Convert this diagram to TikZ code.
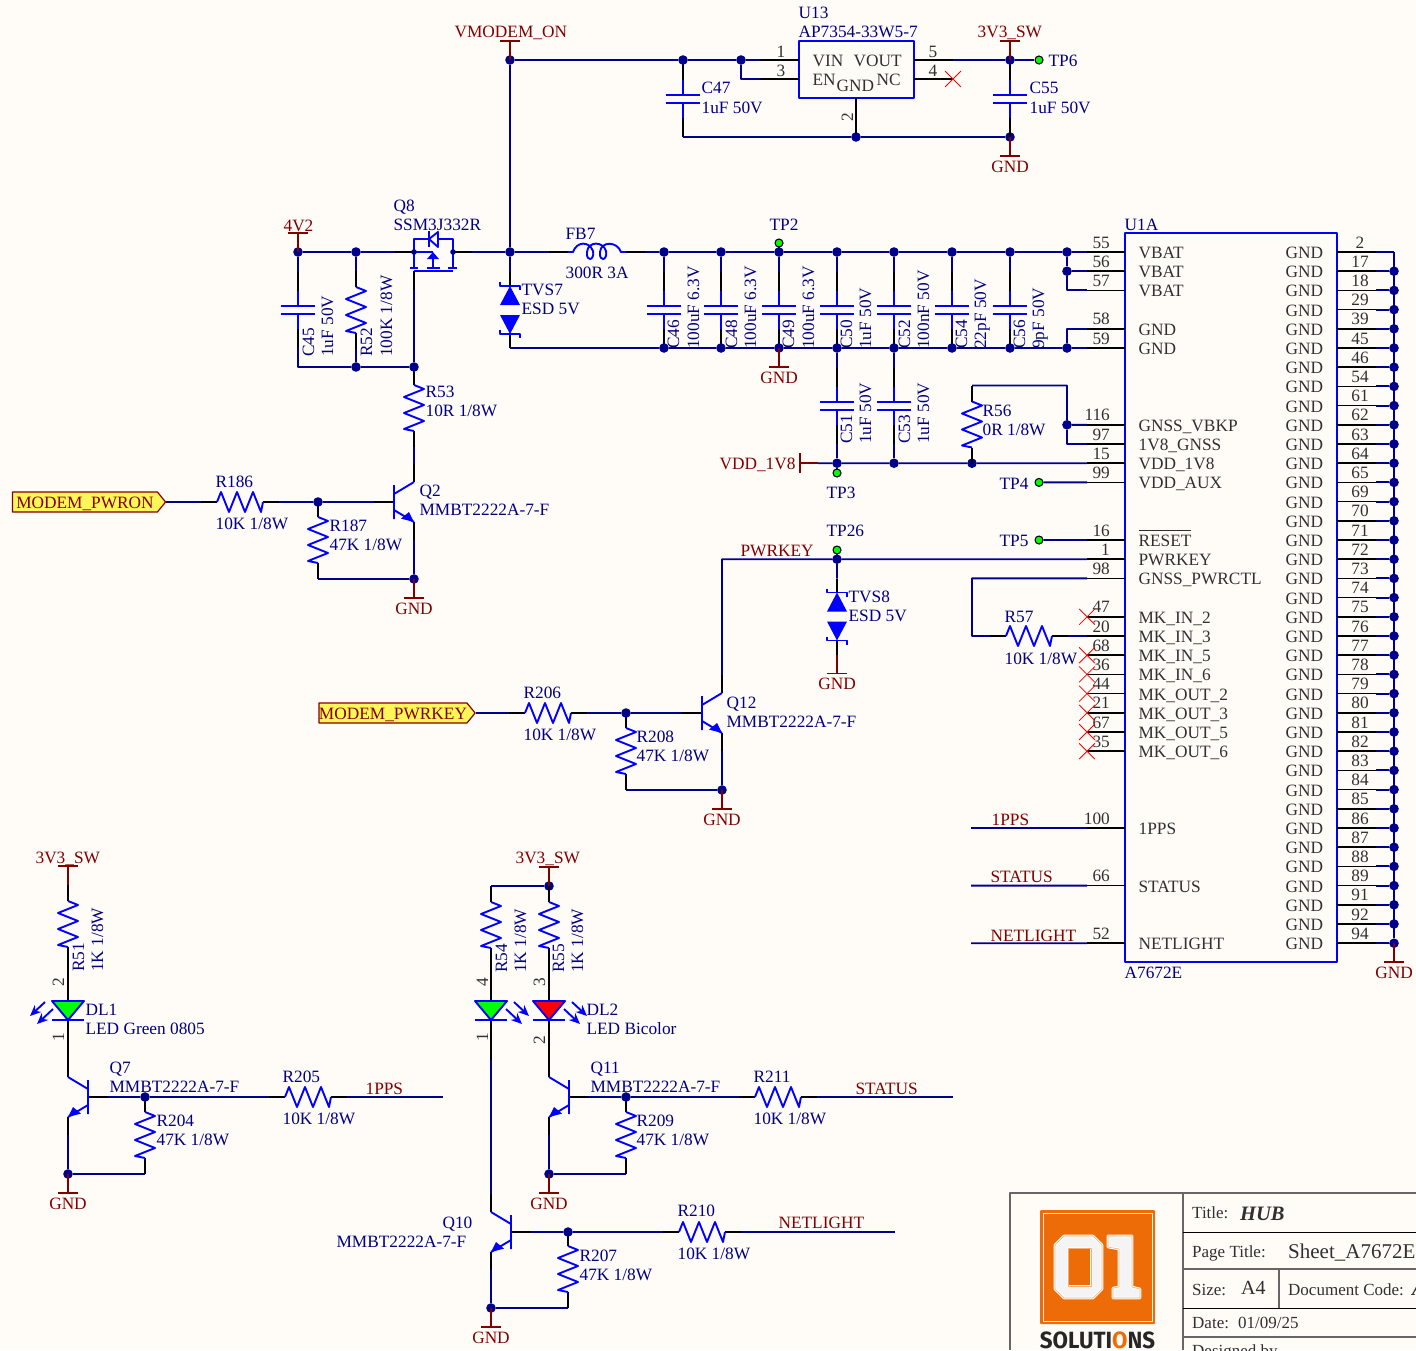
\documentclass[tikz,border=0pt]{standalone}
\usepackage{fontspec}
\usepackage{xcolor}
\usepackage{graphicx}
\setmainfont{Liberation Serif}
\newfontfamily\logofont{Fira Sans}
\usetikzlibrary{arrows.meta}
\usetikzlibrary{shapes.misc}
\usetikzlibrary{shapes.symbols}
\definecolor{paper}{HTML}{FFFCF8}
\definecolor{netblue}{HTML}{00008C}
\definecolor{compblue}{HTML}{0000FF}
\definecolor{lblblue}{HTML}{000080}
\definecolor{portred}{HTML}{800000}
\definecolor{ictext}{HTML}{303030}
\definecolor{logoorange}{HTML}{EE6C07}
\definecolor{logowhite}{HTML}{F4F4F4}
\definecolor{tpgreen}{HTML}{00FF00}
\def\zeroshape{(1064,1236) -- (1093,1236) -- (1102,1245) -- (1102,1289) -- (1093,1298) -- (1064,1298) -- (1055,1289) -- (1055,1245) -- cycle}
\def\oneshape{(1108,1236) -- (1132,1236) -- (1132,1287) -- (1140,1289) -- (1140,1298) -- (1113,1298) -- (1113,1288) -- (1119,1287) -- (1119,1249) -- (1108,1247) -- cycle}
\tikzset{
	wire/.style={draw=netblue,line width=1.9pt},
	stub/.style={draw=black,line width=1.7pt},
	comp/.style={draw=compblue,line width=1.9pt},
	portline/.style={draw=portred,line width=1.7pt},
	txt/.style={font=\fontsize{17.3}{18}\selectfont,inner sep=0pt},
	lbl/.style={txt,text=lblblue,anchor=base west,xshift=-0.6pt},
	rlbl/.style={txt,text=lblblue,anchor=base west,rotate=90},
	netlbl/.style={txt,text=portred,anchor=base west,xshift=-0.6pt},
	gndlbl/.style={txt,text=portred,anchor=base},
	pinnum/.style={txt,text=ictext,anchor=base east},
	pincen/.style={txt,text=ictext,anchor=base},
	rpin/.style={pincen,rotate=90},
	ictxt/.style={txt,text=ictext,anchor=base west,xshift=-0.6pt},
	tbtxt/.style={txt,text=ictext,anchor=base west,font=\fontsize{17}{18}\selectfont},
	jdot/.style={circle,fill=netblue,inner sep=0pt,minimum size=9.6pt},
	tpdot/.style={circle,fill=tpgreen,draw=black,line width=1.1pt,inner sep=0pt,minimum size=8pt},
	ncx/.style={cross out,draw=red,line width=0.8pt,inner sep=0pt,minimum size=15pt},
	icbox/.style={draw=compblue,line width=2.2pt,inner sep=0pt},
	modport/.style={signal,signal to=east,draw=portred,fill=yellow!65,line width=1.2pt,txt,text=portred,
		inner sep=0pt,minimum height=20pt,signal pointer angle=102,text height=13pt,text depth=1pt},
	tbline/.style={draw=black!60,line width=1.3pt},
	pics/resv/.style={code={
		\draw[stub] (0,-39) -- (0,-23) (0,23) -- (0,39);
		\draw[comp] (0,-23) -- (10,-19) -- (-10,-11) -- (10,-3) -- (-10,5) -- (10,13) -- (-10,21) -- (0,23);
		\coordinate (-a) at (0,-39);
		\coordinate (-b) at (0,39);
	}},
	pics/resh/.style={code={
		\draw[stub] (-39,0) -- (-23,0) (23,0) -- (39,0);
		\draw[comp] (-23,0) -- (-19,-10) -- (-11,10) -- (-3,-10) -- (5,10) -- (13,-10) -- (21,10) -- (23,0);
		\coordinate (-a) at (-39,0);
		\coordinate (-b) at (39,0);
	}},
	pics/capv/.style={code={
		\draw[stub] (0,-38) -- (0,-19) (0,19) -- (0,38);
		\draw[comp] (0,-19) -- (0,-4) (0,4) -- (0,19);
		\draw[comp] (-17,-4) -- (17,-4) (-17,4) -- (17,4);
		\coordinate (-a) at (0,-38);
		\coordinate (-b) at (0,38);
	}},
	pics/npn/.style={code={
		\draw[stub] (-20,0) -- (0,0) (20,-20) -- (20,-38) (20,20) -- (20,38);
		\draw[comp] (0,-17) -- (0,17) (0,-8) -- (20,-20) (0,8) -- (20,20);
		\fill[compblue] (20,20) -- (7,16.6) -- (15,10) -- cycle;
		\coordinate (-b) at (-20,0);
		\coordinate (-c) at (20,-38);
		\coordinate (-e) at (20,38);
	}},
	pics/led/.style={code={
		\draw[stub] (0,-38) -- (0,0) (0,19) -- (0,59);
		\draw[comp,fill=#1] (-16,0) -- (16,0) -- (0,19) -- cycle;
		\draw[comp] (-16,19) -- (16,19);
		\draw[compblue,line width=1.9pt,-{Stealth[length=11pt,width=9.5pt]}] (-23,1) -- (-38,15);
		\draw[compblue,line width=1.9pt,-{Stealth[length=11pt,width=9.5pt]}] (-15,8) -- (-31,23);
		\coordinate (-a) at (0,-38);
		\coordinate (-b) at (0,59);
	}},
	pics/tvs/.style={code={
		\draw[stub] (0,-38) -- (0,-24) (0,24) -- (0,38);
		\fill[compblue] (-10,-5) -- (10,-5) -- (0,-24) -- cycle;
		\fill[compblue] (-10,5) -- (10,5) -- (0,24) -- cycle;
		\draw[comp] (-10,-28) -- (-10,-24) -- (10,-24) -- (10,-20);
		\draw[comp] (-10,20) -- (-10,24) -- (10,24) -- (10,28);
		\coordinate (-a) at (0,-38);
		\coordinate (-b) at (0,38);
	}},
	pics/bead/.style={code={
		\draw[stub] (-48,0) -- (-29,0) (29,0) -- (48,0);
		\draw[comp] (-29,0) -- (-24,0) .. controls (-20,-11) and (-8,-11) .. (-4,-1)
			.. controls (-2,8) and (-11,11) .. (-10,0) .. controls (-9,-11) and (6,-11) .. (9,-1)
			.. controls (11,8) and (2,11) .. (3,0) .. controls (4,-11) and (20,-11) .. (24,0) -- (29,0);
		\coordinate (-a) at (-48,0);
		\coordinate (-b) at (48,0);
	}},
	pics/pfet/.style={code={
		\draw[stub] (-38,0) -- (-19,0) (20,0) -- (39,0) (-19,19) -- (-19,38);
		\draw[comp] (-19,0) -- (-19,-13) -- (20,-13) -- (20,0);
		\draw[comp,fill=paper] (5,-20) -- (5,-5) -- (-4,-13) -- cycle;
		\draw[comp] (-4,-21) -- (-4,-5);
		\draw[comp] (-19,0) -- (-19,16) (20,0) -- (20,16) (-19,0) -- (0,0);
		\fill[compblue] (0,0) -- (6,7) -- (-6,7) -- cycle;
		\draw[comp] (0,7) -- (0,16);
		\draw[comp] (-23,16) -- (-15,16) (-6,16) -- (7,16) (15,16) -- (24,16);
		\draw[comp] (-19,19) -- (20,19);
		\fill[netblue] (-19,0) circle (2.8) (20,0) circle (2.8);
		\coordinate (-s) at (-38,0);
		\coordinate (-d) at (39,0);
		\coordinate (-g) at (-19,38);
	}},
	pics/gndp/.style={code={
		\draw[portline] (0,0) -- (0,19) (-10,19) -- (10,19);
		\node[gndlbl] (-t) at (0,35) {GND};
	}},
	pics/railp/.style={code={
		\draw[portline] (0,0) -- (0,-19) (-10,-19) -- (10,-19);
	}},
}
\begin{document}
\begin{tikzpicture}[x=1pt,y=-1pt,line join=round]
	\useasboundingbox (0,0) rectangle (1416,1350);
	\fill[paper] (0,0) rectangle (1416,1350);

	% regulator
	\node[icbox,minimum width=115pt,minimum height=57pt] (u13) at (856.5,69.5) {};
	\draw[stub] (760,60) -- (799,60) (760,79) -- (799,79) (914,60) -- (953,60) (914,79) -- (953,79) (856,98) -- (856,137);
	\foreach \n/\x/\y in {u1/760/60,u3/760/79,u5/953/60,u4/953/79} \coordinate (\n) at (\x,\y);
	\node[ncx] (xu4) at (u4) {};
	\foreach \n/\x/\y in {vmon/510/60,c47t/683/60,uen/741/60,v33/1010/60,ugnd/856/137,c55b/1010/137} \node[jdot] (\n) at (\x,\y) {};
	\coordinate (c47b) at (683,137);
	\pic (c47) at (683,99) {capv};
	\pic (c55) at (1010,99) {capv};
	\node[tpdot] (tp6) at (1039,60) {};
	\draw[wire] (vmon) -- (c47t) -- (uen) -- (u1);
	\draw[wire] (uen) |- (u3);
	\draw[wire] (u5) -- (v33) -- (tp6);
	\draw[wire] (c47t) -- (c47-a) (v33) -- (c55-a) (c55-b) -- (c55b);
	\draw[wire] (c47-b) -- (c47b) -- (ugnd) -- (c55b);
	\pic (pv1) at (vmon) {railp};
	\pic (pv2) at (v33) {railp};
	\pic (g1) at (c55b) {gndp};

	% module
	\node[icbox,minimum width=212pt,minimum height=729pt] (u1a) at (1231,597.5) {};
	\foreach \n/\row/\txt in {55/0/VBAT,56/1/VBAT,57/2/VBAT,58/4/GND,59/5/GND,116/9/GNSS\_VBKP,97/10/1V8\_GNSS,15/11/VDD\_1V8,99/12/VDD\_AUX,
		16/15/{$\overline{\hbox{\rule{0pt}{14.5pt}RESET}}$},1/16/PWRKEY,98/17/GNSS\_PWRCTL,47/19/MK\_IN\_2,20/20/MK\_IN\_3,68/21/MK\_IN\_5,36/22/MK\_IN\_6,
		44/23/MK\_OUT\_2,21/24/MK\_OUT\_3,67/25/MK\_OUT\_5,35/26/MK\_OUT\_6,100/30/1PPS,66/33/STATUS,52/36/NETLIGHT} {
		\pgfmathsetmacro\py{252+19.2*\row}
		\coordinate (pin\n) at (1087,\py);
		\draw[stub] (pin\n) -- (1125,\py);
		\node[pinnum] (pn\n) at (1110,{\py-4}) {\n};
		\node[ictxt] (pt\n) at (1139,{\py+6.5}) {\txt};
	}
	\foreach \n [count=\row from 0] in {2,17,18,29,39,45,46,54,61,62,63,64,65,69,70,71,72,73,74,75,76,77,78,79,80,81,82,83,84,85,86,87,88,89,91,92,94} {
		\pgfmathsetmacro\py{252+19.2*\row}
		\coordinate (rp\n) at (1376,\py);
		\draw[stub] (1337,\py) -- (rp\n);
		\ifnum\row>0
			\node[jdot] (gd\n) at (1394,\py) {};
		\else
			\coordinate (gd\n) at (1394,\py);
		\fi
		\draw[wire] (rp\n) -- (gd\n);
		\node[pincen] (rn\n) at (1360,{\py-4}) {\n};
		\node[ictxt] (rt\n) at (1286,{\py+6.5}) {GND};
	}
	\draw[wire] (gd2) -- (gd94);
	\pic (g2) at (gd94) {gndp};
	\foreach \n in {47,68,36,44,21,67,35} \node[ncx] (x\n) at (pin\n) {};

	% supply
	\foreach \n/\x/\y in {n42/298/252,r52t/356/252,rsw/510/252,vbat/1067/252,v56/1067/271.2,gsum/1067/348,
		ngate/414/367,r52b/356/367,vdda/837/463.2,vddb/894/463.2,vddc/972/463.2,r56d/1067/424.8} \node[jdot] (\n) at (\x,\y) {};
	\foreach \n/\x/\y in {c45b/298/367,vddp/818/463.2,tvsb/510/348} \coordinate (\n) at (\x,\y);
	\pic (c45) at (298,310) {capv};
	\pic (r52) at (356,310) {resv};
	\pic (q8) at (433,252) {pfet};
	\pic (tvs7) at (510,310) {tvs};
	\pic (fb7) at (597,252) {bead};
	\foreach \n/\x in {46/664,48/721,49/779,50/837,52/894,54/952,56/1010} {
		\pic (c\n) at (\x,310) {capv};
		\node[jdot] (vt\n) at (\x,252) {};
		\node[jdot] (vb\n) at (\x,348) {};
		\draw[wire] (vt\n) -- (c\n-a);
	}
	\pic (c51) at (837,406) {capv};
	\pic (c53) at (894,406) {capv};
	\pic (r56) at (972,424.5) {resv};
	\node[tpdot] (tp2) at (779,243) {};
	\node[tpdot] (tp3) at (837,473) {};
	\node[tpdot] (tp4) at (1039,482.4) {};
	\draw[wire] (n42) -- (r52t) -- (q8-s);
	\draw[wire] (q8-d) -- (rsw) -- (fb7-a);
	\draw[wire] (rsw) -- (vmon) (rsw) -- (tvs7-a);
	\draw[wire] (n42) -- (c45-a) (r52t) -- (r52-a);
	\draw[wire] (c45-b) -- (c45b) -- (r52b) -- (ngate) -- (q8-g);
	\draw[wire] (r52-b) -- (r52b);
	\draw[wire] (fb7-b) -- (vt46) -- (vt48) -- (vt49) -- (vt50) -- (vt52) -- (vt54) -- (vt56) -- (vbat) -- (pin55);
	\draw[wire] (tvs7-b) -- (tvsb) -- (vb46) -- (vb48) -- (vb49) -- (vb50) -- (vb52) -- (vb54) -- (vb56) -- (gsum) -- (pin59);
	\draw[wire] (vbat) -- (v56) -- (pin56) (v56) |- (pin57) (gsum) |- (pin58);
	\draw[wire] (vt49) -- (tp2) (vb50) -- (c51-a) (vb52) -- (c53-a);
	\draw[wire] (c51-b) -- (vdda) (c53-b) -- (vddb) (r56-b) -- (vddc) (vdda) -- (tp3);
	\draw[wire] (vddp) -- (vdda) -- (vddb) -- (vddc) -- (pin15);
	\draw[wire] (r56-a) -| (r56d) -- (pin116) (r56d) |- (pin97);
	\draw[wire] (tp4) -- (pin99);
	\draw[portline] (vddp) -- (800,463.2) (800,453) -- (800,473);
	\pic (pv3) at (n42) {railp};
	\pic (g3) at (vb49) {gndp};

	% power key on modem
	\node[modport,minimum width=153pt] (pwron) at (85,502) {MODEM\_PWRON};
	\pic (r186) at (240,502) {resh};
	\pic (r187) at (318,540) {resv};
	\pic (r53) at (414,408) {resv};
	\pic (q2) at (394,502) {npn};
	\node[jdot] (b2) at (318,502) {};
	\node[jdot] (e2) at (414,579) {};
	\draw[wire] (pwron.east) -- (r186-a) (r186-b) -- (b2) -- (q2-b);
	\draw[wire] (ngate) -- (r53-a) (r53-b) -- (q2-c) (q2-e) -- (e2) (r187-b) -- (e2);
	\pic (g4) at (e2) {gndp};

	\node[modport,minimum width=153pt] (pwrkey) at (393,713) {MODEM\_PWRKEY};
	\pic (r206) at (548,713) {resh};
	\pic (r208) at (626,751) {resv};
	\pic (q12) at (702,713) {npn};
	\pic (tvs8) at (837,616.5) {tvs};
	\pic (r57) at (1029,636) {resh};
	\node[jdot] (b12) at (626,713) {};
	\node[jdot] (e12) at (722,790) {};
	\node[jdot] (pk) at (837,559.2) {};
	\node[tpdot] (tp26) at (837,550) {};
	\node[tpdot] (tp5) at (1039,540) {};
	\foreach \n/\x/\y in {k1/972/578.4,k2/972/636,t1/971/828,t2/971/885.6,t3/971/943.2} \coordinate (\n) at (\x,\y);
	\draw[wire] (pwrkey.east) -- (r206-a) (r206-b) -- (b12) -- (q12-b);
	\draw[wire] (q12-c) |- (pk) -- (pin1) (q12-e) -- (e12) (r208-b) -- (e12);
	\draw[wire] (pk) -- (tp26) (pk) -- (tvs8-a) (tp5) -- (pin16);
	\draw[wire] (pin98) -- (k1) -- (k2) -- (r57-a) (r57-b) -- (pin20);
	\draw[wire] (t1) -- (pin100) (t2) -- (pin66) (t3) -- (pin52);
	\pic (g5) at (tvs8-b) {gndp};
	\pic (g6) at (e12) {gndp};

	% status lamps
	\pic (r51) at (68,924) {resv};
	\pic (dl1) at (68,1001) {led=tpgreen};
	\pic[xscale=-1] (q7) at (88,1097) {npn};
	\pic (r205) at (308,1097) {resh};
	\pic (r204) at (145,1135) {resv};
	\node[jdot] (b7) at (145,1097) {};
	\node[jdot] (e7) at (68,1174) {};
	\coordinate (n1pps) at (443,1097);
	\draw[wire] (q7-b) -- (b7) -- (r205-a) (r205-b) -- (n1pps);
	\draw[wire] (q7-e) -- (e7) (r204-b) -- (e7);
	\pic (pv4) at (r51-a) {railp};
	\pic (g7) at (e7) {gndp};

	\node[jdot] (v3m) at (549,886) {};
	\coordinate (v3l) at (491,886);
	\pic (r54) at (491,925) {resv};
	\pic (r55) at (549,925) {resv};
	\pic[xscale=-1] (dl3) at (491,1001) {led=tpgreen};
	\pic[xscale=-1] (dl2) at (549,1001) {led=red};
	\pic[xscale=-1] (q11) at (569,1097) {npn};
	\pic[xscale=-1] (q10) at (511,1232) {npn};
	\pic (r211) at (778,1097) {resh};
	\pic (r209) at (626,1135) {resv};
	\pic (r210) at (702,1232) {resh};
	\pic (r207) at (568,1269) {resv};
	\node[jdot] (b11) at (626,1097) {};
	\node[jdot] (e11) at (549,1174) {};
	\node[jdot] (b10) at (568,1232) {};
	\node[jdot] (e10) at (491,1308) {};
	\coordinate (nstat) at (953,1097);
	\coordinate (nnet) at (895,1232);
	\draw[wire] (v3m) -- (v3l) -- (r54-a);
	\draw[wire] (dl3-b) -- (q10-c) (q10-e) -- (e10) (r207-b) -- (e10);
	\draw[wire] (q11-b) -- (b11) -- (r211-a) (r211-b) -- (nstat);
	\draw[wire] (q11-e) -- (e11) (r209-b) -- (e11);
	\draw[wire] (q10-b) -- (b10) -- (r210-a) (r210-b) -- (nnet);
	\pic (pv5) at (v3m) {railp};
	\pic (g8) at (e11) {gndp};
	\pic (g9) at (e10) {gndp};

	% references and values
	\foreach \x/\y/\txt [count=\idx] in {799/18/U13,799/37/AP7354-33W5-7,1049/66/TP6,702/93/C47,702/113/{1uF 50V},1030/93/C55,1030/113/{1uF 50V},
		394/211/Q8,394/230/SSM3J332R,566/239/FB7,566/278/{300R 3A},770/230/TP2,522/295/TVS7,522/314/{ESD 5V},1125/230/U1A,
		426/397/R53,426/416/{10R 1/8W},216/487/R186,216/529/{10K 1/8W},330/531/R187,330/550/{47K 1/8W},420/496/Q2,420/515/MMBT2222A-7-F,
		827/498/TP3,1000/489/TP4,1000/546/TP5,827/536/TP26,849/602/TVS8,849/621/{ESD 5V},983/416/R56,983/435/{0R 1/8W},
		1005/622/R57,1005/664/{10K 1/8W},524/698/R206,524/740/{10K 1/8W},637/742/R208,637/761/{47K 1/8W},727/708/Q12,727/727/MMBT2222A-7-F,
		1125/978/A7672E,86/1015/DL1,86/1034/{LED Green 0805},110/1073/Q7,110/1092/MMBT2222A-7-F,283/1082/R205,283/1124/{10K 1/8W},
		157/1126/R204,157/1145/{47K 1/8W},587/1015/DL2,587/1034/{LED Bicolor},591/1073/Q11,591/1092/MMBT2222A-7-F,754/1082/R211,754/1124/{10K 1/8W},
		637/1126/R209,637/1145/{47K 1/8W},443/1228/Q10,337/1247/MMBT2222A-7-F,678/1216/R210,678/1259/{10K 1/8W},580/1261/R207,580/1280/{47K 1/8W}}
		\node[lbl] (l\idx) at (\x,\y) {\txt};
	\foreach \x/\y/\txt [count=\idx] in {314/357/C45,333/357/{1uF 50V},372/357/R52,392/357/{100K 1/8W},679/349/C46,699/349/{100uF 6.3V},
		737/349/C48,756/349/{100uF 6.3V},794/349/C49,814/349/{100uF 6.3V},852/349/C50,871/349/{1uF 50V},910/349/C52,929/349/{100nF 50V},
		967/349/C54,986/349/{22pF 50V},1025/349/C56,1044/349/{9pF 50V},852/444/C51,871/444/{1uF 50V},910/444/C53,929/444/{1uF 50V},
		84/972/R51,103/972/{1K 1/8W},507/973/R54,526/973/{1K 1/8W},564/973/R55,583/973/{1K 1/8W}}
		\node[rlbl] (rl\idx) at (\x,\y) {\txt};
	\foreach \x/\y/\txt [count=\idx] in {455/37/VMODEM\_ON,978/37/3V3\_SW,284/231/4V2,741/556/PWRKEY,992/825/1PPS,991/882/STATUS,991/941/NETLIGHT,
		366/1094/1PPS,856/1094/STATUS,779/1228/NETLIGHT,36/863/3V3\_SW,516/863/3V3\_SW,720/469/VDD\_1V8}
		\node[netlbl] (nl\idx) at (\x,\y) {\txt};
	\foreach \x/\y/\txt [count=\idx] in {781/57/1,781/76/3,933/57/5,933/76/4}
		\node[pincen] (pc\idx) at (\x,\y) {\txt};
	\foreach \x/\y/\txt [count=\idx] in {853/117.5/2,64/982/2,64/1037/1,488/982/4,488/1037/1,545/982/3,545/1040/2}
		\node[rpin] (pr\idx) at (\x,\y) {\txt};
	\foreach \x/\y/\txt [count=\idx] in {813/66/VIN,854/66/VOUT,813/85/EN,837/91/GND,877/85/NC}
		\node[ictxt] (ut\idx) at (\x,\y) {\txt};

	% title block
	\draw[tbline] (1010,1350) -- (1010,1193) -- (1416,1193);
	\draw[tbline] (1183,1193) -- (1183,1350) (1183,1269) -- (1416,1269) (1279,1269) -- (1279,1308) (1183,1337) -- (1416,1337);
	\draw[draw=black,line width=1pt] (1183,1232) -- (1416,1232) (1183,1308) -- (1416,1308);
	\node[tbtxt] (tbtitle) at (1192,1218) {Title:};
	\node[tbtxt,font=\fontsize{20.5}{22}\selectfont\bfseries\itshape] (tbhub) at (1240,1220) {HUB};
	\node[tbtxt] (tbpage) at (1192,1257) {Page Title:};
	\node[tbtxt,font=\fontsize{21}{22}\selectfont] (tbsheet) at (1288,1258) {Sheet\_A7672E};
	\node[tbtxt] (tbsize) at (1192,1295) {Size:};
	\node[tbtxt,font=\fontsize{20}{22}\selectfont] (tba4) at (1241,1294) {A4};
	\node[tbtxt] (tbcode) at (1288,1295) {Document Code:};
	\node[tbtxt,font=\fontsize{20.5}{22}\selectfont\bfseries\itshape] (tbcodev) at (1412,1295) {A};
	\node[tbtxt] (tbdate) at (1192,1328) {Date:};
	\node[tbtxt] (tbdatev) at (1238,1328) {01/09/25};
	\node[tbtxt] (tbdes) at (1192,1356) {Designed by};

	% logo
	\fill[logoorange,rounded corners=1pt] (1040,1210) rectangle (1155,1324);
	\draw[logowhite,line width=0.8pt] (1043,1213) rectangle (1152,1321);
	\draw[white,fill=logowhite,line width=2.6pt] \zeroshape;
	\draw[logoorange!55,line width=0.6pt] \zeroshape;
	\draw[white,fill=logoorange,line width=2.6pt] (1068,1248) rectangle (1091,1286);
	\draw[logoorange!55,line width=0.6pt] (1068,1248) rectangle (1091,1286);
	\draw[white,fill=logowhite,line width=2.6pt] \oneshape;
	\draw[logoorange!55,line width=0.6pt] \oneshape;
	\node[anchor=base,inner sep=0pt,text=black!85,font=\fontsize{23.5}{24}\logofont\bfseries] (tblogo) at (1097.5,1348) {\scalebox{0.95}[1]{SOLUTI\textcolor{logoorange}{O}NS}};
\end{tikzpicture}
\end{document}
